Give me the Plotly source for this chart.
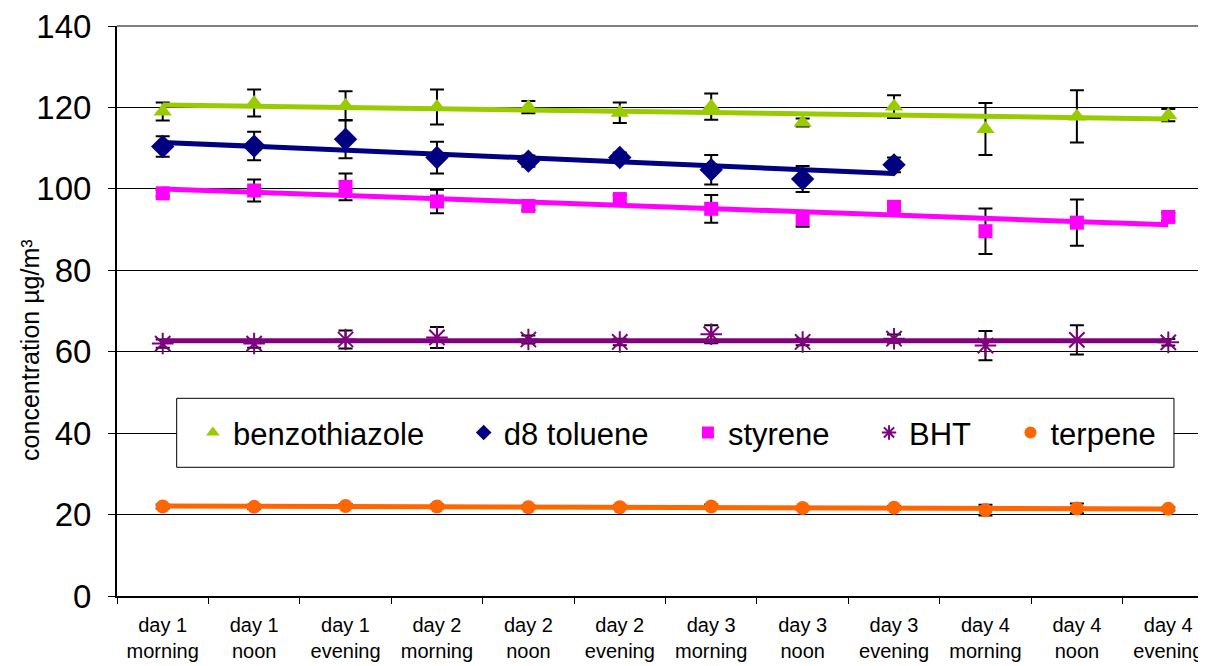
import numpy as np
import plotly.graph_objects as go

categories = ["day 1<br>morning", "day 1<br>noon", "day 1<br>evening",
              "day 2<br>morning", "day 2<br>noon", "day 2<br>evening",
              "day 3<br>morning", "day 3<br>noon", "day 3<br>evening",
              "day 4<br>morning", "day 4<br>noon", "day 4<br>evening"]

benzothiazole = [119.0, 121.1, 120.4, 120.1, 120.1, 118.7, 120.2, 116.3, 120.2, 114.7, 117.8, 118.1]
benzothiazole_err = [2.2, 3.3, 3.6, 4.3, 1.5, 2.5, 3.2, 1.0, 2.8, 6.4, 6.4, 1.5]

d8_toluene = [110.4, 110.5, 112.2, 107.7, 106.8, 107.7, 104.7, 102.4, 105.9]
d8_toluene_err = [2.5, 3.5, 4.7, 3.9, 1.4, 1.2, 3.6, 3.2, 1.8]

styrene = [98.9, 99.6, 100.5, 96.9, 95.8, 97.5, 95.1, 92.6, 95.6, 89.6, 91.7, 93.1]
styrene_err = [0.8, 2.7, 3.3, 2.9, 1.0, 1.0, 3.4, 1.9, 1.0, 5.6, 5.7, 1.0]

bht = [62.0, 62.0, 63.0, 63.5, 63.0, 62.4, 64.3, 62.4, 63.2, 61.5, 62.9, 62.3]
bht_err = [1.0, 1.0, 2.2, 2.6, 1.0, 0.8, 2.2, 0.8, 1.0, 3.6, 3.6, 0.8]

terpene = [22.0, 21.9, 22.1, 22.0, 21.8, 21.8, 22.0, 21.6, 21.7, 21.1, 21.5, 21.4]
terpene_err = [0.5, 0.5, 0.5, 0.5, 0.4, 0.4, 0.5, 0.4, 0.4, 1.3, 1.2, 0.4]

y_ticks = [0, 20, 40, 60, 80, 100, 120, 140]

series = [
    ("benzothiazole", benzothiazole, benzothiazole_err, "#99CC00", "triangle-up", 16),
    ("d8 toluene", d8_toluene, d8_toluene_err, "#000080", "diamond", 18),
    ("styrene", styrene, styrene_err, "#FF00FF", "square", 14),
    ("BHT", bht, bht_err, "#800080", "asterisk-open", 18),
    ("terpene", terpene, terpene_err, "#FF6600", "circle", 14),
]

FONT = "Liberation Sans, Arial, sans-serif"
pad = "\u00a0" * 4

fig = go.Figure()
for name, vals, errs, color, sym, size in series:
    xs = categories[:len(vals)]
    marker = dict(color=color, symbol=sym, size=size)
    if sym == "asterisk-open":
        marker["line"] = dict(color=color, width=2)
    else:
        marker["line"] = dict(width=0)
    fig.add_trace(go.Scatter(
        x=xs, y=vals, mode="markers", name=(name + pad) if name != "terpene" else name,
        marker=marker,
        error_y=dict(type="data", array=errs, visible=True, color="black",
                     thickness=2, width=7),
    ))

for name, vals, errs, color, sym, size in series:
    idx = np.arange(len(vals))
    k, b = np.polyfit(idx, np.array(vals), 1)
    fig.add_trace(go.Scatter(
        x=[categories[0], categories[len(vals) - 1]],
        y=[b, k * (len(vals) - 1) + b],
        mode="lines", line=dict(color=color, width=5),
        showlegend=False, hoverinfo="skip",
    ))

fig.update_layout(
    width=1206, height=666,
    margin=dict(l=109, r=0, t=18, b=78),
    paper_bgcolor="white", plot_bgcolor="white",
    font=dict(family=FONT, color="black"),
    showlegend=True,
    legend=dict(
        orientation="h", x=0.0692, xanchor="left", y=0.2863, yanchor="middle",
        bgcolor="rgba(0,0,0,0)", borderwidth=0,
        font=dict(family=FONT, size=31, color="black"),
        itemsizing="constant",
    ),
    shapes=[
        dict(type="line", xref="paper", yref="paper", x0=0, x1=1, y0=1, y1=1,
             line=dict(color="black", width=1), layer="above"),
        dict(type="rect", xref="paper", yref="paper",
             x0=0.0544, x1=0.9635, y0=0.2258, y1=0.3468,
             fillcolor="white", line=dict(color="black", width=1),
             layer="above"),
    ],
    annotations=[dict(text="concentration µg/m³", xref="paper", yref="paper",
                      x=-0.0793, y=0.43, xanchor="center", yanchor="middle",
                      textangle=-90, showarrow=False,
                      font=dict(family=FONT, size=25, color="black"))],
)

fig.update_xaxes(
    type="category", categoryorder="array", categoryarray=categories,
    range=[-0.5, 11.5], tickson="boundaries", automargin=False,
    showline=True, linecolor="black", linewidth=2,
    ticks="outside", ticklen=6, tickcolor="black", tickwidth=1,
    showgrid=False, zeroline=False,
    tickfont=dict(family=FONT, size=20, color="black"),
    ticklabelstandoff=10, ticklabeloverflow="allow",
)
fig.update_yaxes(
    range=[0, 140], tickvals=y_ticks, automargin=False,
    showline=True, linecolor="black", linewidth=2,
    ticks="outside", ticklen=7, tickcolor="black", tickwidth=1,
    showgrid=True, gridcolor="black", gridwidth=1, zeroline=False,
    tickfont=dict(family=FONT, size=33, color="black"),
    ticklabelstandoff=10, ticklabeloverflow="allow",
)

fig.write_html("out.html")
